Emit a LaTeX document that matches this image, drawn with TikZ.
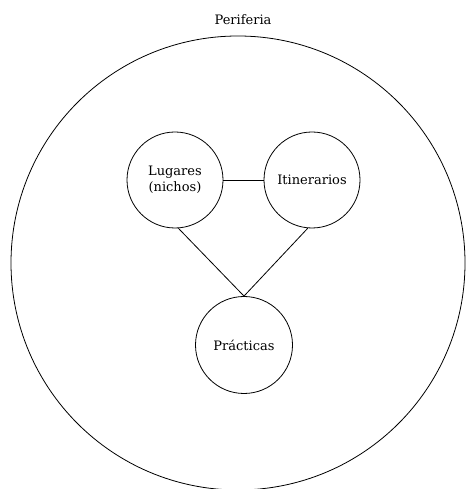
\documentclass[tikz,border=0pt]{standalone}
\usepackage{fontspec}
\setmainfont{DejaVu Serif}
\begin{document}
\begin{tikzpicture}[x=1pt,y=1pt,
  circ/.style={draw, circle, line width=0.8pt, inner sep=0pt, align=center, font=\fontsize{13}{15.5}\selectfont},
  link/.style={draw, line width=0.8pt}]
\useasboundingbox (0,0) rectangle (468,489);
\node[circ, minimum size=454] (per) at (238,226) {};
\node[font=\fontsize{13}{15.5}\selectfont] (lab) at (243,469) {Periferia};
\node[circ, minimum size=96] (lug) at (175,309) {Lugares\\(nichos)};
\node[circ, minimum size=96] (iti) at (312,309) {Itinerarios};
\node[circ, minimum size=97] (pra) at (244,144) {Prácticas};
\draw[link] (lug) -- (iti);
\draw[link] (lug.-86) -- (pra.north);
\draw[link] (iti.-95) -- (pra.north);
\end{tikzpicture}
\end{document}
